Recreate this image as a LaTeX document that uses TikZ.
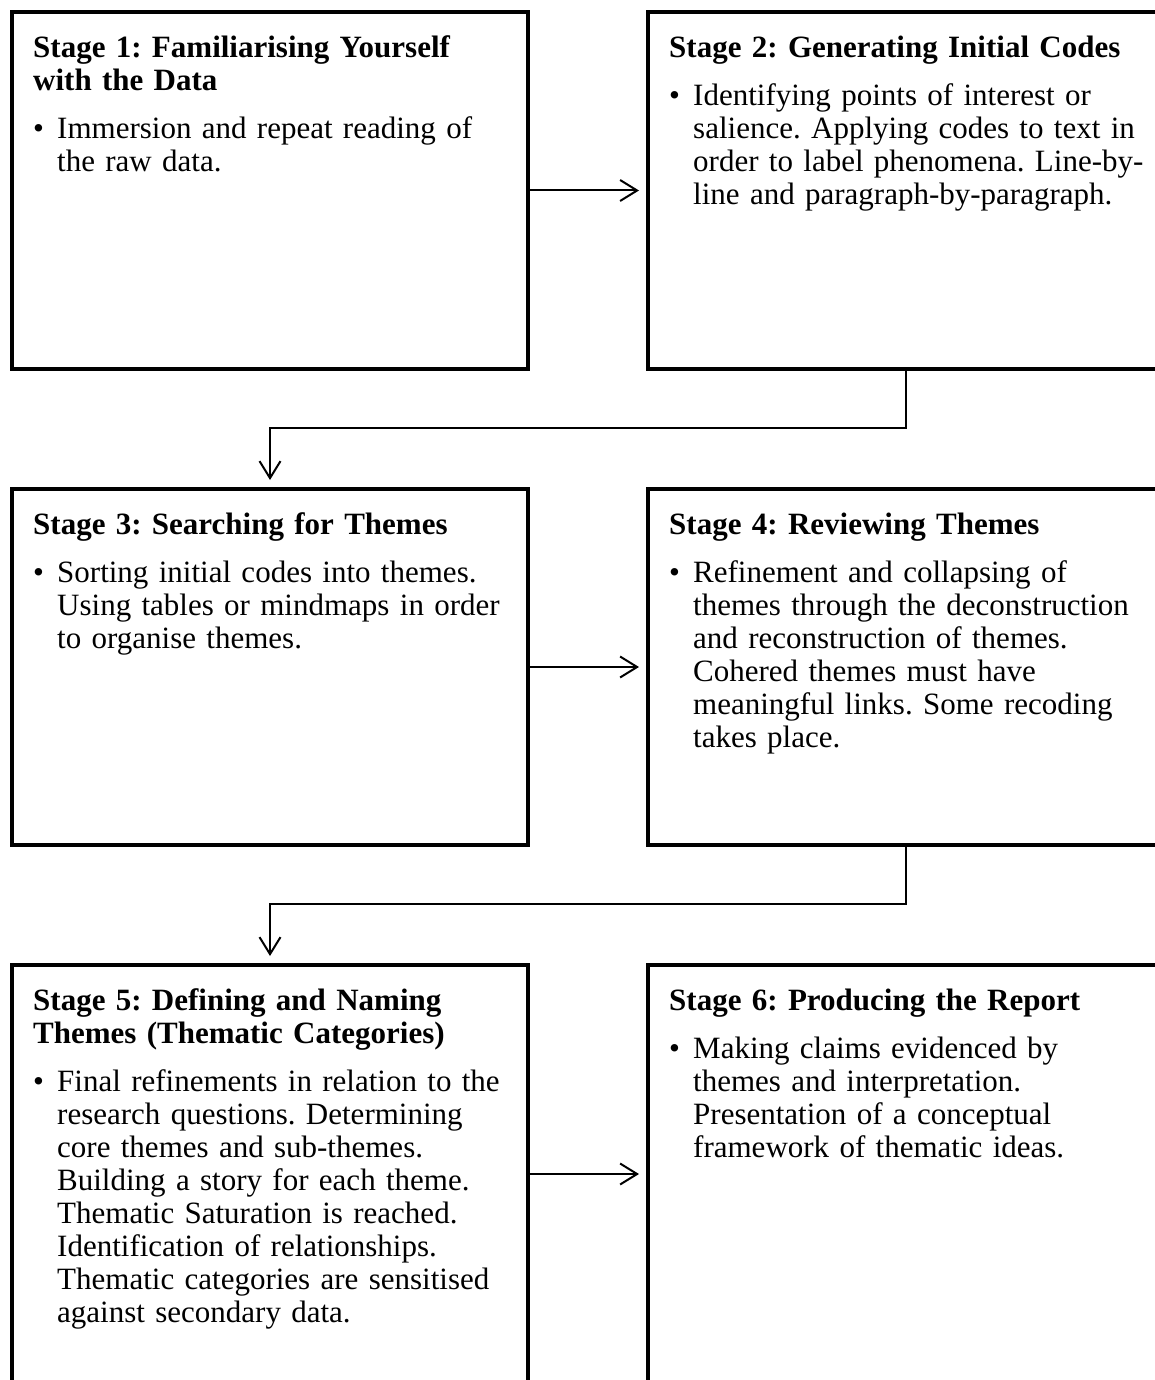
\documentclass[tikz,border=0pt]{standalone}
\usepackage{fontspec}
\setmainfont{Liberation Serif}
\usetikzlibrary{arrows.meta}
\frenchspacing
% heading line with a fixed strut so every box starts at the same baseline
\newcommand{\stagehead}[1]{{\bfseries\vrule height 24pt depth 0pt width 0pt #1}\par\vspace{15pt}}
% one bulleted paragraph, continuation lines aligned with the text after the bullet
\newcommand{\stagebullet}[1]{{\leftskip=24pt\noindent\llap{\makebox[24pt][l]{\textbullet}}#1\par}}
\begin{document}
\begin{tikzpicture}[x=1pt,y=-1pt,
  stagebox/.style={draw, line width=4pt, minimum width=516pt, inner sep=0pt},
  stagetext/.style={anchor=north west, inner sep=0pt, text width=600pt, align=left,
    xshift=23pt, yshift=-23pt, font=\fontsize{31}{33}\selectfont},
  flow/.style={line width=2pt, -{Straight Barb[length=17pt,width=21pt]}, shorten >=7pt}]
\useasboundingbox (0,0) rectangle (1155,1380);
\clip (0,0) rectangle (1155,1380);

% stage boxes
\node[stagebox, minimum height=357pt] (s1) at (270,190.5) {};
\node[stagebox, minimum height=357pt] (s2) at (906,190.5) {};
\node[stagebox, minimum height=356pt] (s3) at (270,667) {};
\node[stagebox, minimum height=356pt] (s4) at (906,667) {};
\node[stagebox, minimum height=418pt] (s5) at (270,1174) {};
\node[stagebox, minimum height=418pt] (s6) at (906,1174) {};

% box contents
\node[stagetext] (t1) at (s1.north west) {%
  \stagehead{Stage 1: Familiarising Yourself\\with the Data}%
  \stagebullet{Immersion and repeat reading of\\the raw data.}};
\node[stagetext] (t2) at (s2.north west) {%
  \stagehead{Stage 2: Generating Initial Codes}%
  \stagebullet{Identifying points of interest or\\salience. Applying codes to text in\\order to label phenomena. Line-by-\\line and paragraph-by-paragraph.}};
\node[stagetext] (t3) at (s3.north west) {%
  \stagehead{Stage 3: Searching for Themes}%
  \stagebullet{Sorting initial codes into themes.\\Using tables or mindmaps in order\\to organise themes.}};
\node[stagetext] (t4) at (s4.north west) {%
  \stagehead{Stage 4: Reviewing Themes}%
  \stagebullet{Refinement and collapsing of\\themes through the deconstruction\\and reconstruction of themes.\\Cohered themes must have\\meaningful links. Some recoding\\takes place.}};
\node[stagetext] (t5) at (s5.north west) {%
  \stagehead{Stage 5: Defining and Naming\\Themes (Thematic Categories)}%
  \stagebullet{Final refinements in relation to the\\research questions. Determining\\core themes and sub-themes.\\Building a story for each theme.\\Thematic Saturation is reached.\\Identification of relationships.\\Thematic categories are sensitised\\against secondary data.}};
\node[stagetext] (t6) at (s6.north west) {%
  \stagehead{Stage 6: Producing the Report}%
  \stagebullet{Making claims evidenced by\\themes and interpretation.\\Presentation of a conceptual\\framework of thematic ideas.}};

% flow between stages
\draw[flow] (s1.east) -- (s2.west);
\draw[flow] (s3.east) -- (s4.west);
\draw[flow] (s5.east) -- (s6.west);
\draw[flow] (s2.south) -- ++(0,57) -| (s3.north);
\draw[flow] (s4.south) -- ++(0,57) -| (s5.north);
\end{tikzpicture}
\end{document}
